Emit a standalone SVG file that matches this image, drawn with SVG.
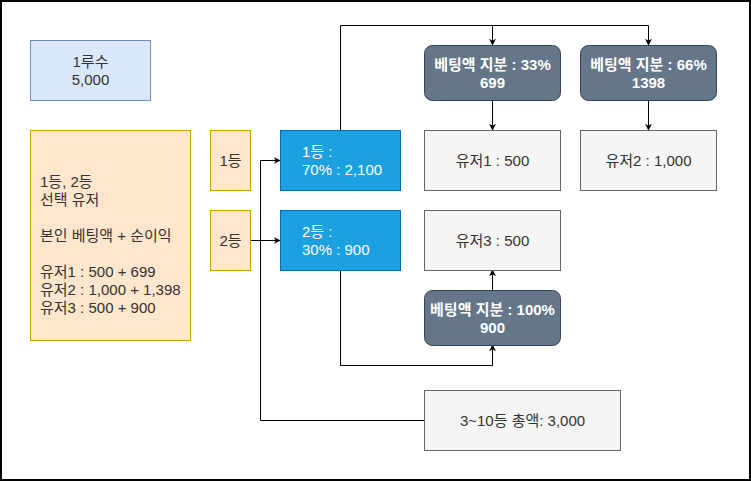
<svg xmlns="http://www.w3.org/2000/svg" width="751" height="481" viewBox="0 0 751 481">
<style>
text{font-family:"Liberation Sans","Noto Sans CJK KR",sans-serif;font-size:15px;fill:#333333}
.blue{fill:#dae8fc;stroke:#6c8ebf}
.orange{fill:#ffe6cc;stroke:#d79b00}
.cyan{fill:#1ba1e2;stroke:#006eaf}
.slate{fill:#647687;stroke:#314354}
.gray{fill:#f5f5f5;stroke:#666666}
.w{fill:#ffffff}
.b{fill:#ffffff;font-weight:bold}
.c{text-anchor:middle}
.e{fill:none;stroke:#000000;stroke-width:1}
</style>
<defs>
<marker id="arr" viewBox="0 0 10 10" refX="9" refY="5" markerWidth="7" markerHeight="7" orient="auto" markerUnits="userSpaceOnUse">
<path d="M0,0 L10,5 L0,10 L3,5 Z" fill="#000"/>
</marker>
</defs>
<rect x="1" y="1" width="749" height="479" fill="#ffffff" stroke="#000000" stroke-width="2"/>
<g id="edges">
<path class="e" d="M340.5,130 V25.5 H492.5 V45" marker-end="url(#arr)"/>
<path class="e" d="M492.5,25.5 H648.5 V45" marker-end="url(#arr)"/>
<path class="e" d="M492.5,100 V130" marker-end="url(#arr)"/>
<path class="e" d="M648.5,100 V130" marker-end="url(#arr)"/>
<path class="e" d="M340.5,270 V365.5 H492.5 V345" marker-end="url(#arr)"/>
<path class="e" d="M492.5,290 V270" marker-end="url(#arr)"/>
<path class="e" d="M424,420.5 H260.5 V160.5 H280" marker-end="url(#arr)"/>
<path class="e" d="M250,240.5 H280" marker-end="url(#arr)"/>
</g>
<g id="n-1rusu">
<rect class="blue" x="30.5" y="40.5" width="120" height="60"/>
<text class="c" x="90.5" y="67">1루수</text>
<text class="c" x="90.5" y="85">5,000</text>
</g>
<g id="n-summary">
<rect class="orange" x="30.5" y="130.5" width="160" height="210"/>
<text x="40" y="187">1등, 2등</text>
<text x="40" y="205">선택 유저</text>
<text x="40" y="241">본인 베팅액 + 순이익</text>
<text x="40" y="277">유저1 : 500 + 699</text>
<text x="40" y="295">유저2 : 1,000 + 1,398</text>
<text x="40" y="313">유저3 : 500 + 900</text>
</g>
<g id="n-1st">
<rect class="orange" x="210.5" y="130.5" width="40" height="60"/>
<text class="c" x="230.5" y="166">1등</text>
</g>
<g id="n-2nd">
<rect class="orange" x="210.5" y="210.5" width="40" height="60"/>
<text class="c" x="230.5" y="246">2등</text>
</g>
<g id="n-1st-share">
<rect class="cyan" x="280.5" y="130.5" width="120" height="60"/>
<text class="w" x="302" y="157">1등 :</text>
<text class="w" x="302" y="175">70% : 2,100</text>
</g>
<g id="n-2nd-share">
<rect class="cyan" x="280.5" y="210.5" width="120" height="60"/>
<text class="w" x="302" y="237">2등 :</text>
<text class="w" x="302" y="255">30% : 900</text>
</g>
<g id="n-bet33">
<rect class="slate" x="424.5" y="45.5" width="136" height="55" rx="8"/>
<text class="b c" x="492.5" y="70">베팅액 지분 : 33%</text>
<text class="b c" x="492.5" y="88">699</text>
</g>
<g id="n-bet66">
<rect class="slate" x="580.5" y="45.5" width="136" height="55" rx="8"/>
<text class="b c" x="648.5" y="70">베팅액 지분 : 66%</text>
<text class="b c" x="648.5" y="88">1398</text>
</g>
<g id="n-user1">
<rect class="gray" x="424.5" y="130.5" width="136" height="60"/>
<text class="c" x="492.5" y="166">유저1 : 500</text>
</g>
<g id="n-user2">
<rect class="gray" x="580.5" y="130.5" width="136" height="60"/>
<text class="c" x="648.5" y="166">유저2 : 1,000</text>
</g>
<g id="n-user3">
<rect class="gray" x="424.5" y="210.5" width="136" height="60"/>
<text class="c" x="492.5" y="246">유저3 : 500</text>
</g>
<g id="n-bet100">
<rect class="slate" x="424.5" y="290.5" width="136" height="55" rx="8"/>
<text class="b c" x="492.5" y="315">베팅액 지분 : 100%</text>
<text class="b c" x="492.5" y="333">900</text>
</g>
<g id="n-rest">
<rect class="gray" x="424.5" y="390.5" width="196" height="60"/>
<text class="c" x="522.5" y="426">3~10등 총액: 3,000</text>
</g>
</svg>
